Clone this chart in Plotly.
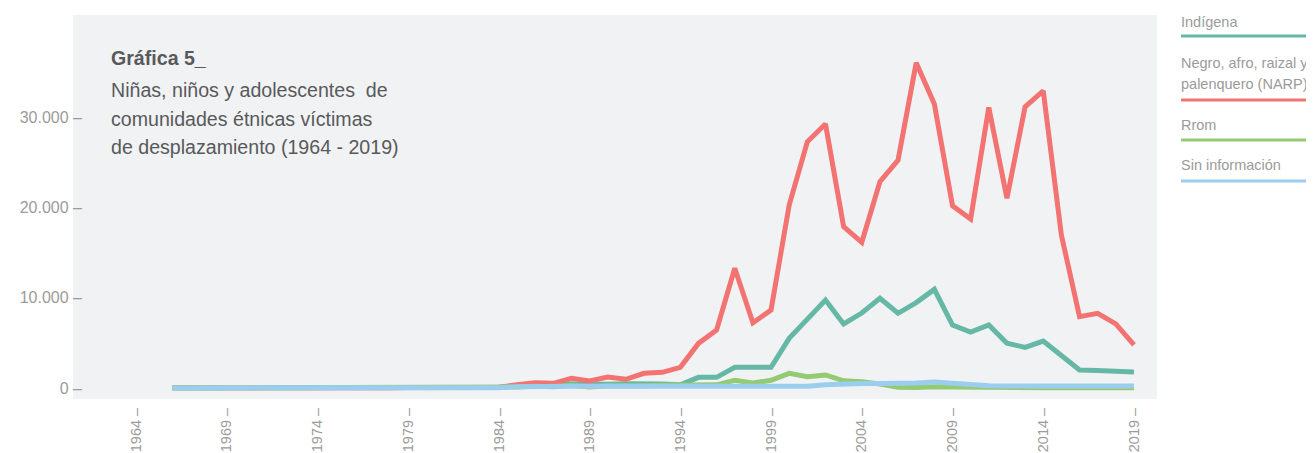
import plotly.graph_objects as go

years = list(range(1966, 2020))

indigena = [15, 10, 10, 15, 10, 20, 15, 10, 20, 15, 25, 20, 15, 30, 25, 20, 30, 35,
            60, 250, 450, 480, 420, 450, 400, 480, 520, 450, 350, 1180, 1180, 2290,
            2290, 2290, 5500, 7600, 9740, 7090, 8300, 9930, 8270, 9450, 10920, 6970,
            6200, 6970, 4950, 4500, 5200, 3600, 1990, 1940, 1880, 1770]

narp = [20, 10, 15, 10, 20, 15, 10, 25, 20, 30, 25, 20, 30, 40, 35, 30, 45, 50,
        80, 350, 590, 520, 1070, 780, 1220, 960, 1620, 1730, 2290, 4940, 6420, 13250,
        7230, 8630, 20260, 27270, 29230, 17860, 16130, 22840, 25240, 36010, 31440, 20180,
        18710, 31070, 21000, 31140, 32910, 16940, 7900, 8270, 7090, 4760]

rrom = [5, 5, 5, 5, 5, 5, 5, 5, 5, 5, 5, 5, 5, 5, 5, 10, 10, 15,
        30, 100, 200, 150, 300, 100, 250, 200, 250, 300, 300, 300, 350, 850,
        550, 850, 1620, 1250, 1440, 800, 700, 450, 80, 60, 150, 100,
        60, 40, 30, 30, 30, 30, 30, 30, 30, 30]

sin_info = [10, 10, 10, 10, 10, 10, 10, 10, 10, 10, 10, 10, 10, 10, 10, 10, 10, 10,
            20, 150, 200, 200, 200, 180, 200, 200, 200, 200, 200, 200, 200, 200,
            200, 180, 150, 200, 350, 450, 500, 500, 500, 550, 650, 500,
            350, 250, 220, 220, 220, 220, 220, 220, 220, 220]

series_names = ["Indígena", "Negro, afro, raizal y<br>palenquero (NARP)", "Rrom", "Sin información"]
series_values = [indigena, narp, rrom, sin_info]
colors = ["#66B8A6", "#F27371", "#94CA72", "#9BCEEE"]

x_tickvals = list(range(1964, 2020, 5))
x_ticktext = [str(v) + " –" for v in x_tickvals]
y_tickvals = [0, 10000, 20000, 30000]
y_ticktext = ["0 –", "10.000 –", "20.000 –", "30.000 –"]

title_lines = ["<b>Gráfica 5_</b>", "Niñas, niños y adolescentes  de",
               "comunidades étnicas víctimas", "de desplazamiento (1964 - 2019)"]

FONT = "Liberation Sans, Arial, sans-serif"
OFF = 8  # page body margin
W, H = 1306, 445
ML, MR, MT, MB = 65, 157, 7, 54
PW, PH = W - ML - MR, H - MT - MB

def px_to_paper_x(px):
    return (px - OFF - ML) / PW

def py_to_paper_y(py):
    return (H - MB - (py - OFF)) / PH

fig = go.Figure()
for name, vals, col in zip(series_names, series_values, colors):
    fig.add_trace(go.Scatter(x=years, y=vals, mode="lines", name=name,
                             line=dict(color=col, width=5), showlegend=False,
                             hoverinfo="skip"))

annotations = []
title_y = [58, 90, 119, 147]
for t, yy in zip(title_lines, title_y):
    annotations.append(dict(text=t, x=px_to_paper_x(109), y=py_to_paper_y(yy),
                            xref="paper", yref="paper", xanchor="left", yanchor="middle",
                            showarrow=False, align="left",
                            font=dict(family=FONT, size=19.6, color="#58595B")))

legend_text = [["Indígena"], ["Negro, afro, raizal y", "palenquero (NARP)"], ["Rrom"], ["Sin información"]]
legend_text_y = [[22], [63, 84], [125], [165]]
legend_line_y = [36, 100, 140, 181]
shapes = []
for lines, ys, ly, col in zip(legend_text, legend_text_y, legend_line_y, colors):
    for t, yy in zip(lines, ys):
        annotations.append(dict(text=t, x=px_to_paper_x(1179), y=py_to_paper_y(yy),
                                xref="paper", yref="paper", xanchor="left", yanchor="middle",
                                showarrow=False, align="left",
                                font=dict(family=FONT, size=14.5, color="#9B9B9B")))
    shapes.append(dict(type="line", xref="paper", yref="paper",
                       x0=px_to_paper_x(1181), x1=px_to_paper_x(1330),
                       y0=py_to_paper_y(ly), y1=py_to_paper_y(ly),
                       line=dict(color=col, width=3)))

fig.update_layout(
    width=W, height=H,
    margin=dict(l=ML, r=MR, t=MT, b=MB, pad=0, autoexpand=False),
    paper_bgcolor="white", plot_bgcolor="#F1F2F4",
    font=dict(family=FONT, color="#9B9B9B"),
    annotations=annotations, shapes=shapes,
    xaxis=dict(range=[1960.53, 2020.27], tickvals=x_tickvals, ticktext=x_ticktext,
               tickangle=-90, showgrid=False, zeroline=False,
               showline=False, ticks="", tickfont=dict(size=14.5, color="#9B9B9B"),
               ticklabelstandoff=5, automargin=False),
    yaxis=dict(range=[-1220, 41300], tickvals=y_tickvals, ticktext=y_ticktext,
               showgrid=False, zeroline=False, showline=False,
               ticks="", tickfont=dict(size=16, color="#9B9B9B"),
               ticklabelstandoff=-10, automargin=False),
)

fig.write_html("out.html")
